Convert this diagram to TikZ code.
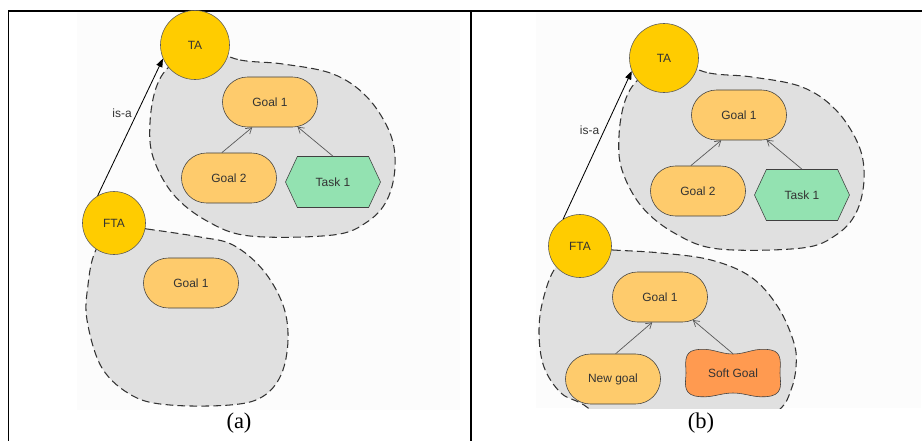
\documentclass[tikz,border=0pt]{standalone}
\usepackage{fontspec}
\setmainfont{Liberation Serif}
\setsansfont{Liberation Sans}
\usetikzlibrary{shapes.geometric, shapes.misc, shapes.symbols, positioning, arrows.meta}
\definecolor{agentyellow}{HTML}{FFCC00}
\definecolor{goalorange}{HTML}{FECB6C}
\definecolor{taskgreen}{HTML}{93E2B1}
\definecolor{softorange}{HTML}{FF9A50}
\definecolor{boundgray}{HTML}{E0E0E0}
\definecolor{labelgray}{HTML}{333333}

\begin{document}
\begin{tikzpicture}[
    x=0.025cm, y=-0.025cm,
    labelfont/.style={font=\sffamily\fontsize{8.5}{10}\selectfont, text=labelgray},
    agent/.style={draw=black!65, circle, fill=agentyellow, minimum size=1.725cm, inner sep=0pt, labelfont},
    smallagent/.style={agent, minimum size=1.575cm},
    goal/.style={draw=black!75, rounded rectangle, fill=goalorange, minimum width=2.375cm, minimum height=1.25cm, inner sep=0pt, labelfont},
    task/.style={draw=black!75, signal, signal to=east and west, signal pointer angle=130, fill=taskgreen, minimum width=2.375cm, minimum height=1.275cm, inner sep=0pt, labelfont},
    softgoal/.style={minimum width=2.375cm, minimum height=0.95cm, inner sep=0pt, labelfont},
    softshape/.style={draw=black!75, fill=softorange},
    boundary/.style={draw=black!80, fill=boundgray, dash pattern=on 5.5pt off 3pt, line width=0.75pt},
    decomp/.style={draw=black!65, line width=0.5pt, -{Straight Barb[length=4pt,width=5pt]}},
    isa/.style={line width=0.6pt, -{Triangle[length=6pt,width=4.5pt]}},
    frameline/.style={line width=1.2pt},
    caption/.style={font=\fontsize{16}{18}\selectfont}
]
    \useasboundingbox (0,0) rectangle (922,441);

    % Table frame
    \draw[frameline] (8.5,441) -- (8.5,11) -- (922,11);
    \draw[frameline] (471,11) -- (471,441);
    \fill[black!1] (77,12) rectangle (460,410);
    \fill[black!1] (536,12) rectangle (921,408);

    % (a) Boundaries
    \draw[boundary] plot[smooth cycle, tension=0.6] coordinates {(200,48) (240,60) (283,64) (333,74) (367,97) (390,133) (395,167) (387,200) (367,222) (333,235) (250,236) (207,221) (173,194) (153,157) (150,123) (156,88) (170,66)};
    \draw[boundary] plot[smooth cycle, tension=0.6] coordinates {(114,225) (147,229) (200,237) (233,245) (263,270) (283,305) (288,340) (281,375) (262,397) (230,405) (170,405) (133,396) (102,368) (87,320) (88,285) (95,252)};

    % (a) Agents
    \node[agent] (ta) at (195,45) {TA};
    \node[smallagent] (fta) at (114,223) {FTA};

    % (a) TA elements
    \node[goal] (g1) at (270,102) {Goal 1};
    \node[goal] (g2) at (229,178) {Goal 2};
    \node[task] (t1) at (333,182) {Task 1};

    % (a) FTA elements
    \node[goal] (fg1) at (191,283) {Goal 1};

    % (a) Links
    \draw[decomp] (g2.106) -- (g1.-125);
    \draw[decomp] (t1.north) -- (g1.-42);
    \draw[isa] (fta.121) -- node[pos=0.6, left, labelfont] (isaA) {is-a} (ta.-157);

    \node[caption] (capA) at (239,423) {(a)};

    % (b) Boundaries
    \draw[boundary] plot[smooth cycle, tension=0.6] coordinates {(669,61) (709,73) (752,77) (802,87) (836,110) (859,146) (864,180) (856,213) (836,235) (802,248) (719,249) (676,234) (642,207) (622,170) (619,136) (625,101) (639,79)};
    \begin{scope}
        \clip (536,0) rectangle (922,408);
        \draw[boundary] plot[smooth cycle, tension=0.6] coordinates {(582,248) (613,250) (661,253) (711,260) (751,277) (778,307) (794,343) (796,367) (791,390) (779,410) (740,435) (630,435) (584,405) (561,393) (544,367) (539,333) (543,300) (556,267)};
    \end{scope}

    % (b) Agents
    \node[agent] (taB) at (664,58) {TA};
    \node[smallagent] (ftaB) at (580,246) {FTA};

    % (b) TA elements
    \node[goal] (g1B) at (739,115) {Goal 1};
    \node[goal] (g2B) at (698,191) {Goal 2};
    \node[task] (t1B) at (802,195) {Task 1};

    % (b) FTA elements
    \node[goal] (fg1B) at (660,297) {Goal 1};
    \node[goal] (ngB) at (613,379) {New goal};
    \coordinate (sgc) at (733,373);
    \draw[softshape, shift={(sgc)}] (-38,-23) .. controls (-22,-26) and (-14,-19) .. (0,-19)
        .. controls (14,-19) and (22,-26) .. (38,-23)
        .. controls (50,-21) and (47,-8) .. (47,0)
        .. controls (47,8) and (51,20) .. (38,23)
        .. controls (22,26) and (14,20) .. (0,20)
        .. controls (-14,20) and (-22,26) .. (-38,23)
        .. controls (-51,20) and (-47,8) .. (-47,0)
        .. controls (-47,-8) and (-50,-21) .. cycle;
    \node[softgoal] (sgB) at (sgc) {Soft Goal};

    % (b) Links
    \draw[decomp] (g2B.106) -- (g1B.-125);
    \draw[decomp] (t1B.north) -- (g1B.-42);
    \draw[decomp] (ngB.84) -- (fg1B.-107);
    \draw[decomp] (sgB.north) -- (fg1B.-35);
    \draw[isa] (ftaB.122) -- node[pos=0.6, left, labelfont] (isaB) {is-a} (taB.-158);

    \node[caption] (capB) at (701,423) {(b)};
\end{tikzpicture}
\end{document}
